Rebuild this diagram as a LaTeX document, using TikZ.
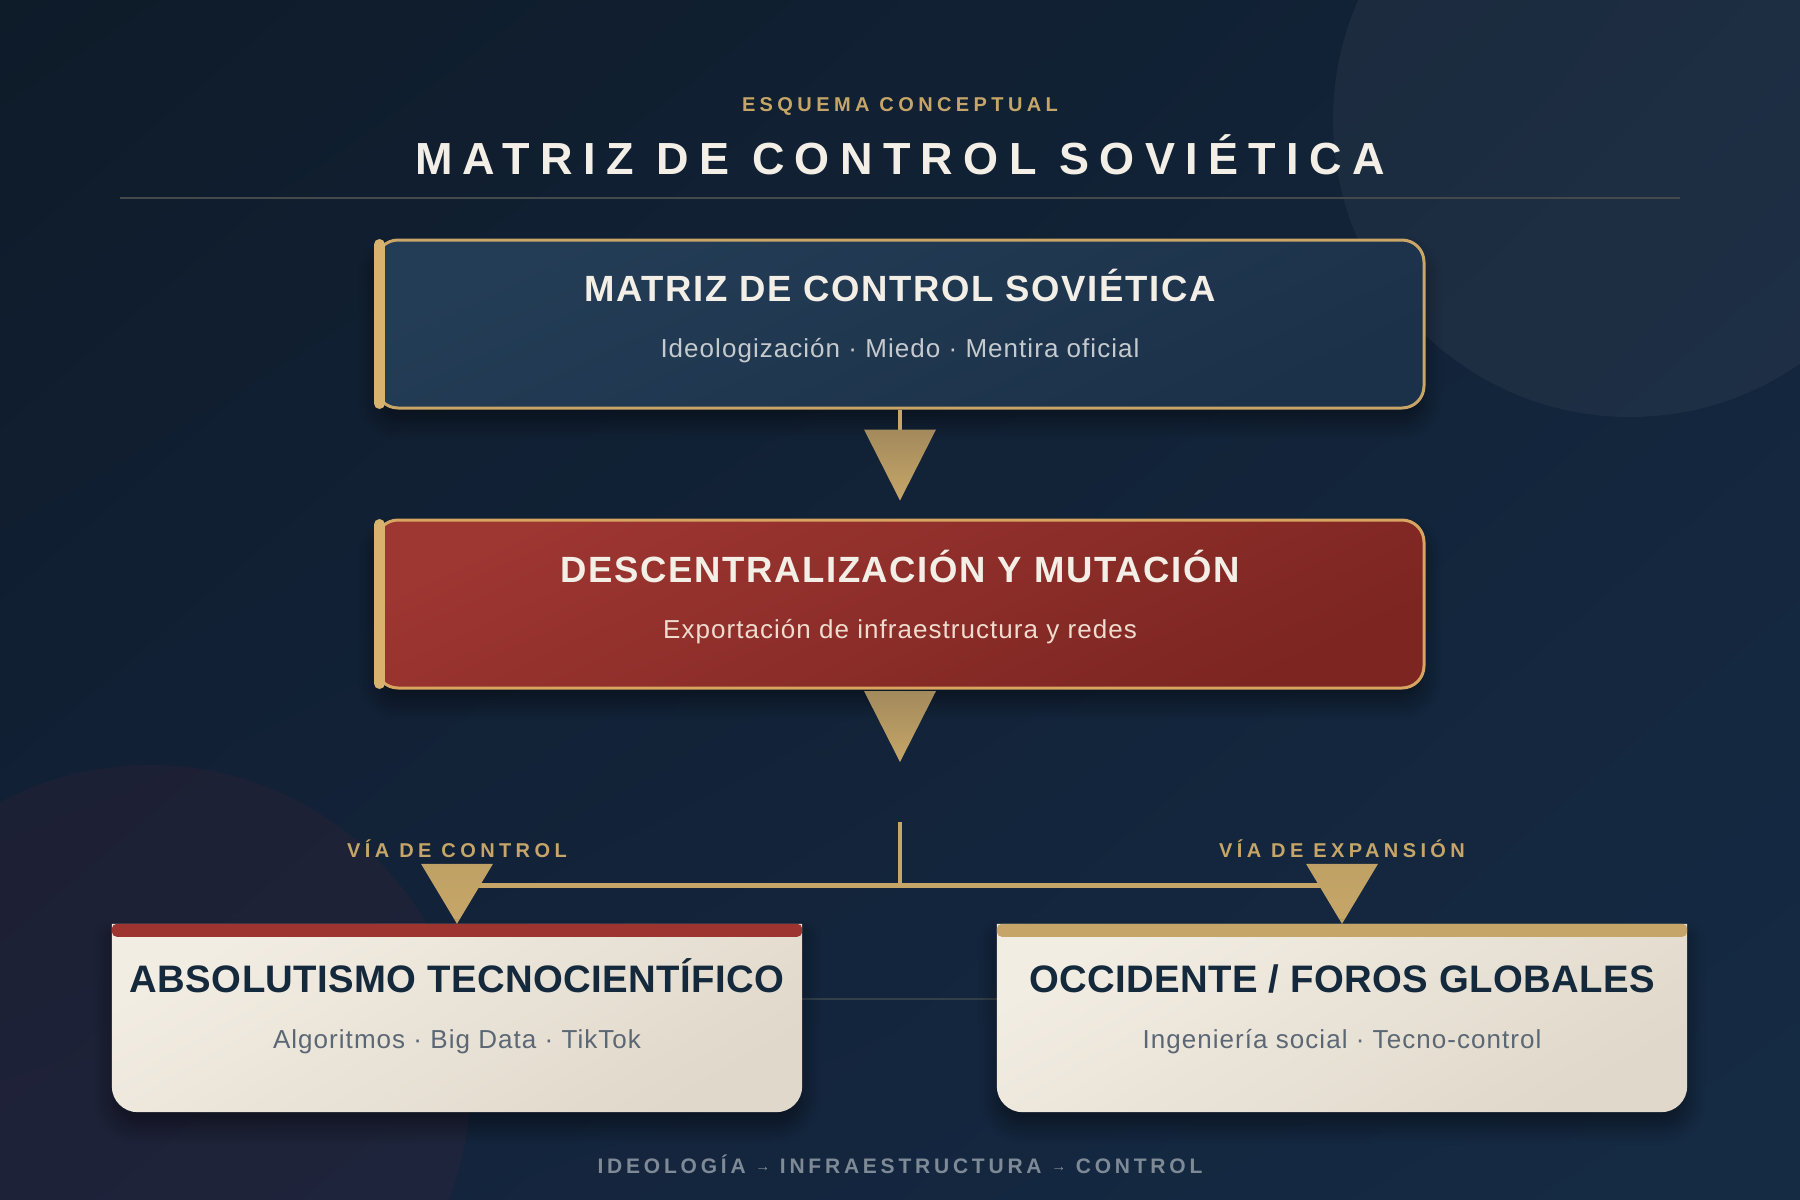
\documentclass[tikz,border=0pt]{standalone}
\usepackage{fontspec}
\setmainfont{Liberation Sans}
\newfontfamily\kickfont[LetterSpace=22]{Liberation Sans}
\newfontfamily\headfont[LetterSpace=23]{Liberation Sans}
\newfontfamily\btitlefont[LetterSpace=4.5]{Liberation Sans}
\newfontfamily\ctitlefont[LetterSpace=1]{Liberation Sans}
\newfontfamily\subfont[LetterSpace=4]{Liberation Sans}
\newfontfamily\lblfont[LetterSpace=22]{Liberation Sans}
\newfontfamily\footfont[LetterSpace=18]{Liberation Sans}
\usetikzlibrary{shadows.blur,calc,shadings}
\definecolor{bgA}{HTML}{0E1B29}
\definecolor{bgB}{HTML}{13243A}
\definecolor{bgC}{HTML}{13223A}
\definecolor{bgD}{HTML}{152B44}
\definecolor{gold}{HTML}{C6A668}
\definecolor{golddark}{HTML}{A38A5C}
\definecolor{accent}{HTML}{D9B26E}
\definecolor{borderA}{HTML}{C9A567}
\definecolor{borderB}{HTML}{D8A560}
\definecolor{navyA}{HTML}{243D56}
\definecolor{navyB}{HTML}{1B3149}
\definecolor{redA}{HTML}{9E3632}
\definecolor{redB}{HTML}{7C2521}
\definecolor{stripered}{HTML}{9E3430}
\definecolor{creamA}{HTML}{F2EDE3}
\definecolor{creamB}{HTML}{E0D8CA}
\definecolor{darktext}{HTML}{15293D}
\definecolor{graytext}{HTML}{5B6774}
\definecolor{titlecream}{HTML}{F3EFE6}
\definecolor{subA}{HTML}{C5CACE}
\definecolor{subB}{HTML}{F0DCCF}
\definecolor{footcol}{HTML}{7E8A96}
\definecolor{rulecol}{HTML}{44494B}
\definecolor{faintcol}{HTML}{323E49}
\definecolor{blobred}{RGB}{120,40,52}
\begin{document}
\begin{tikzpicture}[x=1pt,y=-1pt,
  txt/.style={inner sep=0pt, anchor=base},
  kicker/.style={txt, text=gold, font=\kickfont\bfseries\fontsize{20}{24}\selectfont},
  headline/.style={txt, text=titlecream, font=\headfont\bfseries\fontsize{45}{54}\selectfont},
  btitle/.style={txt, text=titlecream, font=\btitlefont\bfseries\fontsize{36.5}{42}\selectfont},
  ctitle/.style={txt, text=darktext, font=\ctitlefont\bfseries\fontsize{38.3}{45}\selectfont},
  bsub/.style={txt, font=\subfont\fontsize{26}{31}\selectfont},
  lbl/.style={txt, text=gold, font=\lblfont\bfseries\fontsize{20}{24}\selectfont},
  foot/.style={txt, text=footcol, font=\footfont\bfseries\fontsize{21}{25}\selectfont},
  boxshadow/.style={blur shadow={shadow xshift=0pt, shadow yshift=-14pt, shadow blur radius=18pt, shadow blur steps=14, shadow opacity=45}},
  bigbox/.style={rectangle, inner sep=0pt, minimum width=1048pt, minimum height=168pt, rounded corners=22pt, line width=3pt, boxshadow},
  navybox/.style={bigbox, draw=borderA, shade, top color=navyA, bottom color=navyB, shading angle=25},
  redbox/.style={bigbox, draw=borderB, shade, top color=redA, bottom color=redB, shading angle=25},
  cardframe/.style={rectangle, inner sep=0pt, minimum width=690pt, minimum height=188pt},
  accentbar/.style={draw=accent, line width=11pt, line cap=round},
  stem/.style={draw=gold, line width=4pt},
  tri/.style={top color=golddark, bottom color=gold},
  tri2/.style={top color=gold!97!black, bottom color=gold},
  branch/.style={draw=gold, line width=5pt},
]
\useasboundingbox (0,0) rectangle (1800,1200);
% background
\shade[upper left=bgA, upper right=bgB, lower left=bgC, lower right=bgD] (0,0) rectangle (1800,1200);
\fill[white, opacity=0.045] (1630,120) circle (297pt);
\fill[blobred, opacity=0.11] (150,1085) circle (320pt);

% header
\node[kicker] (kick) at (900,111) {ESQUEMA CONCEPTUAL};
\node[headline] (head) at (900,174) {MATRIZ DE CONTROL SOVIÉTICA};
\coordinate (ruleL) at (120,198);
\coordinate (ruleR) at (1680,198);
\draw[rulecol, line width=1.5pt] (ruleL) -- (ruleR);

% top box
\node[navybox] (top) at (900,324) {};
\coordinate (topbarA) at ($(top.north west)+(5,6)$);
\coordinate (topbarB) at ($(top.south west)+(5,-6)$);
\draw[accentbar] (topbarA) -- (topbarB);
\node[btitle] (topT) at (900,301) {MATRIZ DE CONTROL SOVIÉTICA};
\node[bsub, text=subA] (topS) at (900,357) {Ideologización · Miedo · Mentira oficial};

% red box
\node[redbox] (mid) at (900,604) {};
\coordinate (midbarA) at ($(mid.north west)+(5,6)$);
\coordinate (midbarB) at ($(mid.south west)+(5,-6)$);
\draw[accentbar] (midbarA) -- (midbarB);
\node[btitle] (midT) at (900,582) {DESCENTRALIZACIÓN Y MUTACIÓN};
\node[bsub, text=subB] (midS) at (900,638) {Exportación de infraestructura y redes};

% connector 1
\coordinate (a1) at ($(top.south)+(0,20)$);
\draw[stem] (top.south) -- (a1);
\shade[tri] ($(a1)+(-36,0)$) -- ($(a1)+(36,0)$) -- ($(a1)+(0,71)$) -- cycle;

% connector 2
\coordinate (a2) at ($(mid.south)+(0,1.5)$);
\shade[tri] ($(a2)+(-36,0)$) -- ($(a2)+(36,0)$) -- ($(a2)+(0,71)$) -- cycle;

% branch
\node[cardframe] (lbox) at (457,1018) {};
\node[cardframe] (rbox) at (1342,1018) {};
\coordinate (split) at (900,822);
\coordinate (junction) at (900,885);
\draw[stem] (split) -- (junction);
\draw[branch] (lbox.north |- junction) -- (rbox.north |- junction);
\shade[tri2] ($(lbox.north)+(-36,-60)$) -- ($(lbox.north)+(36,-60)$) -- (lbox.north) -- cycle;
\shade[tri2] ($(rbox.north)+(-36,-60)$) -- ($(rbox.north)+(36,-60)$) -- (rbox.north) -- cycle;
\node[lbl] (lblL) at (457,857) {VÍA DE CONTROL};
\node[lbl] (lblR) at (1342,857) {VÍA DE EXPANSIÓN};

% faint link between cards
\draw[faintcol, line width=2pt] ($(lbox.east)+(0,-19)$) -- ($(rbox.west)+(0,-19)$);

% cards
\shade[boxshadow, top color=creamA, bottom color=creamB, shading angle=30]
  (lbox.north east) -- (lbox.north west) [rounded corners=26pt] -- (lbox.south west) -- (lbox.south east) [sharp corners] -- cycle;
\fill[stripered, rounded corners=5pt] ($(lbox.north west)+(0,0)$) rectangle ($(lbox.north east)+(0,13)$);
\shade[boxshadow, top color=creamA, bottom color=creamB, shading angle=30]
  (rbox.north east) -- (rbox.north west) [rounded corners=26pt] -- (rbox.south west) -- (rbox.south east) [sharp corners] -- cycle;
\fill[gold, rounded corners=5pt] ($(rbox.north west)+(0,0)$) rectangle ($(rbox.north east)+(0,13)$);

\node[ctitle] (lT) at (457,992) {ABSOLUTISMO TECNOCIENTÍFICO};
\node[bsub, text=graytext] (lS) at (457,1048) {Algoritmos · Big Data · TikTok};
\node[ctitle] (rT) at (1342,992) {OCCIDENTE / FOROS GLOBALES};
\node[bsub, text=graytext] (rS) at (1342,1048) {Ingeniería social · Tecno-control};

% footer
\node[foot] (footer) at (900,1173) {IDEOLOGÍA \raisebox{1.5pt}{\fontsize{15}{17}\selectfont →} INFRAESTRUCTURA \raisebox{1.5pt}{\fontsize{15}{17}\selectfont →} CONTROL};
\end{tikzpicture}
\end{document}
